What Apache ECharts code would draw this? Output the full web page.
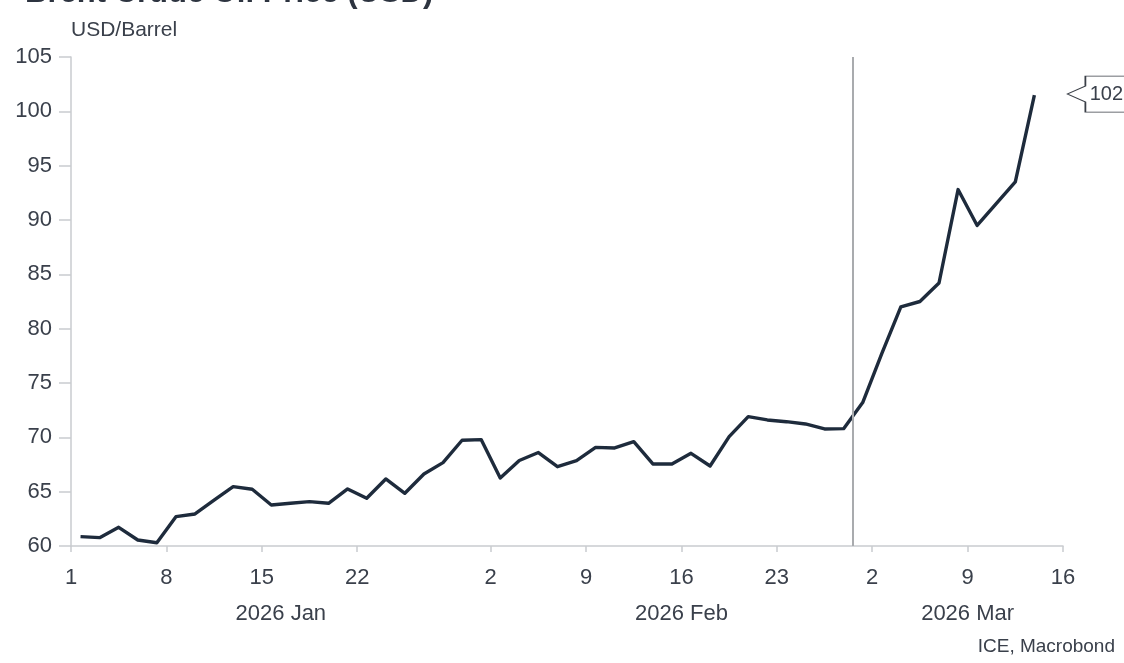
<!DOCTYPE html>
<html>
<head>
<meta charset="utf-8">
<script src="https://cdn.jsdelivr.net/npm/echarts@6/dist/echarts.min.js"></script>
<style>
html,body{margin:0;padding:0;background:#fff;}
#chart{width:1124px;height:663px;}
</style>
</head>
<body>
<div id="chart"></div>
<script>
// ---- data ----
const dates = [
  '2026-01-01','2026-01-02','2026-01-05','2026-01-06','2026-01-07','2026-01-08','2026-01-09',
  '2026-01-12','2026-01-13','2026-01-14','2026-01-15','2026-01-16',
  '2026-01-19','2026-01-20','2026-01-21','2026-01-22','2026-01-23',
  '2026-01-26','2026-01-27','2026-01-28','2026-01-29','2026-01-30',
  '2026-02-02','2026-02-03','2026-02-04','2026-02-05','2026-02-06',
  '2026-02-09','2026-02-10','2026-02-11','2026-02-12','2026-02-13',
  '2026-02-16','2026-02-17','2026-02-18','2026-02-19','2026-02-20',
  '2026-02-23','2026-02-24','2026-02-25','2026-02-26','2026-02-27',
  '2026-03-02','2026-03-03','2026-03-04','2026-03-05','2026-03-06',
  '2026-03-09','2026-03-10','2026-03-11','2026-03-12'
];
const brent = [
  60.86,60.77,61.72,60.55,60.30,62.70,62.95,
  64.23,65.46,65.22,63.77,63.93,
  64.08,63.93,65.25,64.39,66.17,
  64.85,66.63,67.67,69.73,69.79,
  66.26,67.87,68.60,67.30,67.85,
  69.08,69.02,69.60,67.55,67.55,
  68.53,67.36,70.06,71.90,71.60,
  71.44,71.23,70.77,70.80,73.20,
  77.70,82.00,82.50,84.20,92.80,
  89.50,91.50,93.50,101.50
];
const tickDates = ['2026-01-01','2026-01-08','2026-01-15','2026-01-22','2026-02-02','2026-02-09',
                   '2026-02-16','2026-02-23','2026-03-02','2026-03-09','2026-03-16'];
const monthLabels = ['2026 Jan','2026 Feb','2026 Mar'];
const monthStarts = ['2026-01-01','2026-02-01','2026-03-01'];
const axisStart = '2026-01-01';
const axisEnd = '2026-03-16';
const eventDate = '2026-02-27';
const unitLabel = 'USD/Barrel';
const titleText = 'Brent Crude Oil Price (USD)';
const sourceText = 'ICE, Macrobond';

// ---- helpers: weekday (trading-day) scale ----
function toUTC(s){const p=s.split('-');return Date.UTC(+p[0],+p[1]-1,+p[2]);}
function weekdayIndex(s){
  let t=toUTC(axisStart), end=toUTC(s), n=0;
  while(t<end){const d=new Date(t).getUTCDay(); if(d!==0&&d!==6) n++; t+=86400000;}
  return n;
}
const xMax = weekdayIndex(axisEnd);
const seriesData = dates.map((d,i)=>[weekdayIndex(d)+0.5, brent[i]]);
const tickVals = tickDates.map(weekdayIndex);
const tickMap = {}; tickDates.forEach((d,i)=>{tickMap[tickVals[i]] = String(+d.split('-')[2]);});
const mStartIdx = monthStarts.map(weekdayIndex).concat([xMax]);
const monthCenters = monthLabels.map((m,i)=>(mStartIdx[i]+mStartIdx[i+1])/2);
const monthMap = {}; monthCenters.forEach((c,i)=>{monthMap[c]=monthLabels[i];});
const lastPt = seriesData[seriesData.length-1];

const FONT = "'Liberation Sans', Arial, sans-serif";
const TXT = '#3a404b';
const AXC = '#c9cbcf';

const chart = echarts.init(document.getElementById('chart'), null, {renderer:'canvas'});
chart.setOption({
  backgroundColor:'#ffffff',
  animation:false,
  title:[
    {text:titleText, left:20, top:-27, textStyle:{fontFamily:FONT,fontSize:31,fontWeight:'bold',color:'#2d3440'}},
    {text:unitLabel, left:66, top:15, textStyle:{fontFamily:FONT,fontSize:21,fontWeight:'normal',color:TXT}},
    {text:sourceText, right:4, bottom:2, textStyle:{fontFamily:FONT,fontSize:19,fontWeight:'normal',color:TXT}}
  ],
  grid:{left:71, right:61, top:57, bottom:117, containLabel:false},
  xAxis:[
    {
      type:'value', min:0, max:xMax, position:'bottom',
      axisLine:{show:true, onZero:false, lineStyle:{color:AXC, width:1.5}},
      axisTick:{show:true, length:6, customValues:tickVals, lineStyle:{color:AXC, width:1.5}},
      axisLabel:{show:true, customValues:tickVals, margin:21, fontFamily:FONT, fontSize:22, color:TXT,
        formatter:v=>tickMap[v]!==undefined?tickMap[v]:''},
      splitLine:{show:false}
    },
    {
      type:'value', min:0, max:xMax, position:'bottom', gridIndex:0,
      axisLine:{show:false}, axisTick:{show:false},
      axisLabel:{show:true, customValues:monthCenters, margin:57, fontFamily:FONT, fontSize:22, color:TXT,
        formatter:v=>monthMap[v]!==undefined?monthMap[v]:''},
      splitLine:{show:false}
    }
  ],
  yAxis:{
    type:'value', min:60, max:105, interval:5,
    axisLine:{show:true, lineStyle:{color:AXC, width:1.5}},
    axisTick:{show:true, length:12, lineStyle:{color:AXC, width:1.5}},
    axisLabel:{margin:19, fontFamily:FONT, fontSize:22, color:TXT},
    splitLine:{show:false}
  },
  series:[{
    type:'line', xAxisIndex:0, data:seriesData, showSymbol:false, smooth:false,
    lineStyle:{color:'#1e2b3c', width:3.4, join:'round'},
    markLine:{
      silent:true, symbol:['none','none'],
      label:{show:false},
      lineStyle:{color:'#a9abae', width:2, type:'solid'},
      data:[{xAxis: weekdayIndex(eventDate)}]
    },
    markPoint:{
      silent:true,
      data:[{coord:lastPt, value:lastPt[1]}],
      symbol:'path://M18,0 L80,0 L80,36 L18,36 L18,26 L0,18 L18,10 Z',
      symbolSize:[80,36],
      symbolKeepAspect:false,
      symbolOffset:[73,-1],
      itemStyle:{color:'#ffffff', borderColor:'#3a3f47', borderWidth:1.2},
      label:{show:true, position:'inside', offset:[-1,0], fontFamily:FONT, fontSize:20, color:TXT,
        formatter:p=>String(Math.round(p.value))}
    }
  }]
});
</script>
</body>
</html>
